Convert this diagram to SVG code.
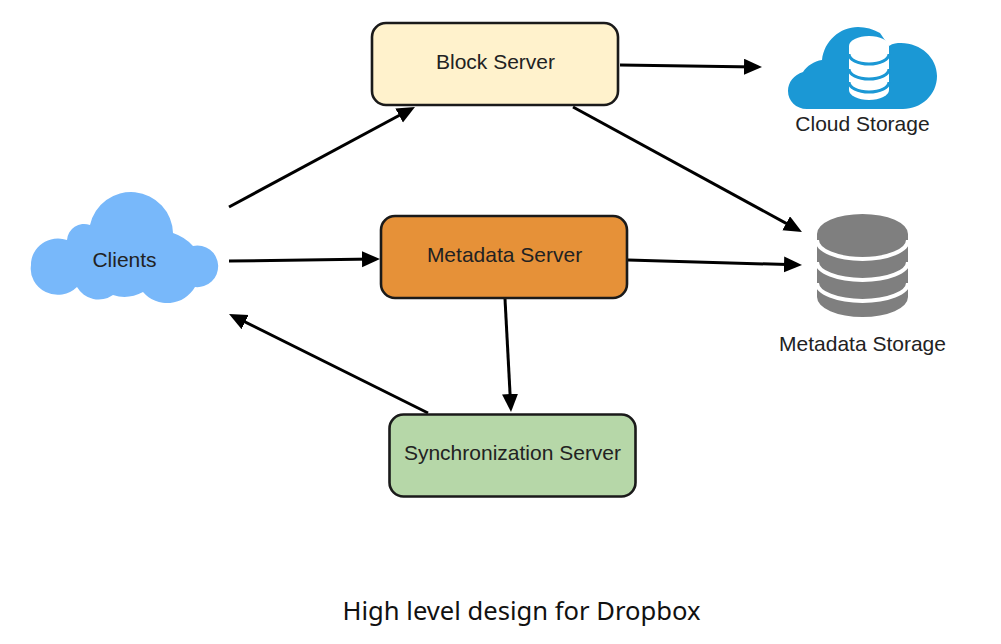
<svg xmlns="http://www.w3.org/2000/svg" width="1001" height="644" viewBox="0 0 1001 644">
<style>
.box{stroke:#1a1a1a;stroke-width:2.6}
.lbl{font-family:"Liberation Sans",Arial,sans-serif;font-size:21px;fill:#222;text-anchor:middle}
.cap{font-family:"Noto Sans","Open Sans",sans-serif;font-size:25.600px;fill:#111;text-anchor:middle}
.edge{fill:none;stroke:#000;stroke-width:3;marker-end:url(#arrow)}
.gap{fill:none;stroke:#fff;stroke-width:4}
.band{fill:none;stroke:#1b98d5;stroke-width:3}
</style>
<defs>
<marker id="arrow" markerUnits="userSpaceOnUse" markerWidth="19" markerHeight="18" refX="12" refY="8" orient="auto">
<path d="M0 0L18 8L0 16Z" fill="#000"/>
</marker>
</defs>
<rect width="1001" height="644" fill="#fff"/>
<g id="connectors">
<path class="edge" d="M229 207L409.700 109.800"/>
<path class="edge" d="M620 65L756 66.900"/>
<path class="edge" d="M573 107L796.700 229.100"/>
<path class="edge" d="M229 261L374 259.100"/>
<path class="edge" d="M628 260L796 264.800"/>
<path class="edge" d="M505 299L510.700 406"/>
<path class="edge" d="M428 413L234.400 316.700"/>
</g>
<g id="clients">
<path fill="#78b8fa" d="M31 265A27 26 0 0 1 67 240A17 17 0 0 1 90 225A42 42 0 0 1 173 233Q185 237 193 246A20.800 20.800 0 1 1 195 287A32 32 0 0 1 143 292Q128 300 113 295A25 25 0 0 1 77 287A27 26 0 0 1 31 265Z"/>
<text class="lbl" x="124.500" y="267">Clients</text>
</g>
<g id="block-server">
<rect class="box" x="372" y="23" width="246" height="82" rx="14" fill="#fff2cc"/>
<text class="lbl" x="495.500" y="68.500">Block Server</text>
</g>
<g id="metadata-server">
<rect class="box" x="381" y="216" width="246" height="82" rx="14" fill="#e69138"/>
<text class="lbl" x="504.500" y="261.500">Metadata Server</text>
</g>
<g id="sync-server">
<rect class="box" x="389.500" y="414.500" width="246" height="82" rx="14" fill="#b6d7a8"/>
<text class="lbl" x="512.500" y="459.500">Synchronization Server</text>
</g>
<g id="cloud-storage">
<path fill="#1b98d5" d="M807 109C796 109 788 101 788 91C788 82 794 75 803 72C807 66 814 61 822 60C824 41 840 27 858 27C866 27 873 29 880 33L889 46C893 43 897 43 901 43C921 43 937 58 937 76C937 95 921 109 903 109Z"/>
<path d="M849 46A20 10 0 0 1 889 46V90A20 10 0 0 1 849 90Z" fill="#fff"/>
<path class="band" d="M849 54A20 10 0 0 0 889 54"/>
<path class="band" d="M849 69A20 10 0 0 0 889 69"/>
<path class="band" d="M849 82A20 10 0 0 0 889 82"/>
<text class="lbl" x="862.500" y="131">Cloud Storage</text>
</g>
<g id="metadata-storage">
<path d="M817 234A45.500 20 0 0 1 908 234V297A45.500 20 0 0 1 817 297Z" fill="#7f7f7f"/>
<path class="gap" d="M817 240A45.500 19 0 0 0 908 240"/>
<path class="gap" d="M817 262A45.500 18 0 0 0 908 262"/>
<path class="gap" d="M817 283A45.500 18 0 0 0 908 283"/>
<text class="lbl" x="862.500" y="350.500">Metadata Storage</text>
</g>
<text id="caption" class="cap" x="521.500" y="620">High level design for Dropbox</text>
</svg>
